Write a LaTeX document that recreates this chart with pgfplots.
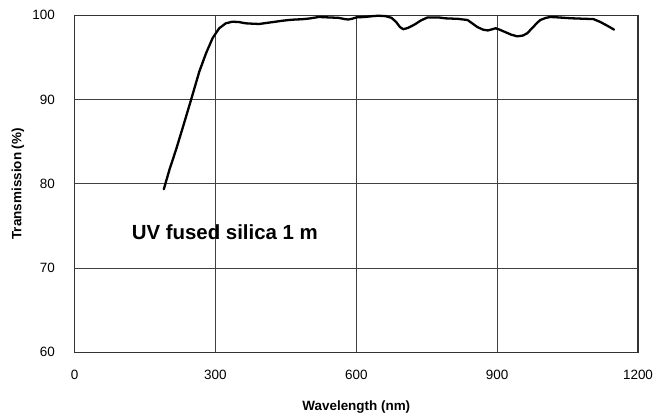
\documentclass[border=0pt]{standalone}
\usepackage{fontspec}
\setmainfont{Liberation Sans}
\usepackage{pgfplots}
\pgfplotsset{compat=1.18}
\begin{document}
\begin{tikzpicture}
\useasboundingbox (-74.6bp,-61.7bp) rectangle (585.4bp,352.3bp);
\begin{axis}[
  scale only axis,
  width=563.4bp, height=337bp,
  xmin=0, xmax=1200, ymin=60, ymax=100,
  xtick={0,300,600,900,1200},
  ytick={60,70,80,90,100},
  grid=major,
  major grid style={color=black!75, line width=0.7bp},
  axis line style={color=black!80, line width=1.3bp},
  major tick length=0pt,
  /pgf/number format/assume math mode=true,
  /pgf/number format/set thousands separator={},
  xticklabel style={font=\fontsize{13.5}{15}\selectfont, anchor=north, inner sep=0pt, yshift=-18bp},
  yticklabel style={font=\fontsize{13.5}{15}\selectfont, anchor=east, inner sep=0pt, xshift=-19.6bp},
  xlabel={Wavelength (nm)},
  ylabel={Transmission (\%)},
  every axis x label/.style={at={(axis description cs:0.5,0)}, yshift=-54.7bp, anchor=center, font=\fontsize{13.5}{15}\selectfont\bfseries},
  every axis y label/.style={at={(axis description cs:0,0.5)}, xshift=-56.6bp, rotate=90, anchor=center, font=\fontsize{13.5}{15}\selectfont\bfseries},
  clip=false,
]
\addplot[black, line width=2.3bp, line join=round, line cap=round] coordinates {
(190,79.35) (202,81.67) (216,84.04) (230,86.6) (248,89.96) (265.5,93.3) (280,95.5)
(294,97.3) (308,98.46) (322,99.05) (336,99.24) (350,99.2) (364,99.05) (380,99.0)
(393,98.97) (410,99.1)
(428,99.24) (442,99.35) (456,99.44) (470,99.5) (484,99.53) (500,99.62) (520,99.8)
(540,99.75) (562,99.7) (575,99.55) (583,99.5) (592,99.6) (600,99.75) (618,99.8)
(635,99.9) (647,99.95) (662,99.9) (675,99.7) (685,99.2) (693,98.6) (700,98.35)
(710,98.5) (724,98.9) (738,99.4) (752,99.75) (774,99.75) (790,99.64) (816,99.58)
(837,99.44) (848,99.0) (858,98.6) (870,98.3) (880,98.2) (890,98.35) (897,98.46)
(905,98.3) (915,98.06) (930,97.7) (943,97.5) (955,97.6) (964,97.87) (975,98.5)
(985,99.1) (992,99.44) (1004,99.7) (1014,99.8) (1030,99.75) (1056,99.65) (1080,99.6)
(1105,99.55) (1120,99.2) (1135,98.75) (1149,98.3)
};
\node[font=\fontsize{20.5}{24}\selectfont\bfseries] at (axis cs:320,74.2) {UV fused silica 1 m};
\end{axis}
\end{tikzpicture}
\end{document}
